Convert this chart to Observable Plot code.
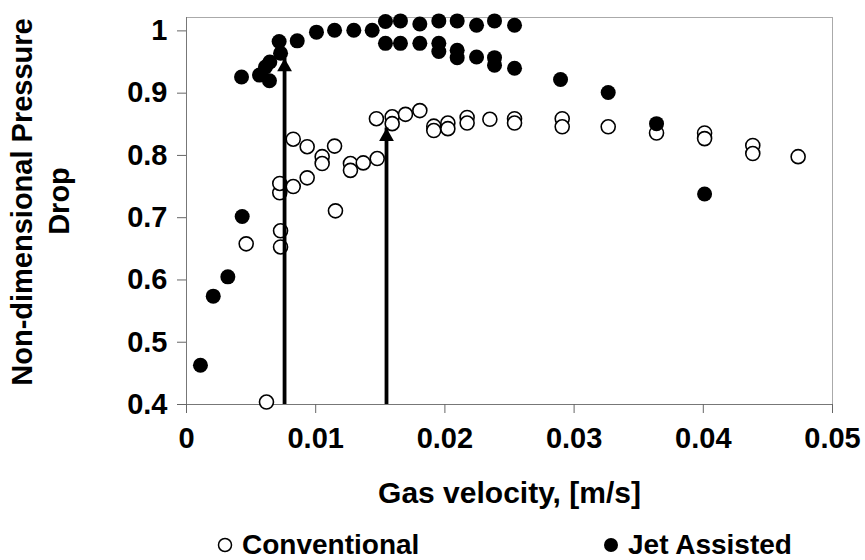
<!DOCTYPE html>
<html><head><meta charset="utf-8">
<script src="https://cdn.jsdelivr.net/npm/d3@7"></script>
<script src="https://cdn.jsdelivr.net/npm/@observablehq/plot@0.6"></script>
<style>
body{margin:0;background:#fff;font-family:"Liberation Sans",Arial,sans-serif;}
#wrap{position:relative;width:865px;height:560px;}
.leg{position:absolute;top:527px;font-weight:bold;font-size:28px;line-height:36px;display:flex;align-items:center;white-space:nowrap;}
.leg svg{margin-right:9px;}
</style></head><body>
<div id="wrap"><div id="chart"></div>
<div class="leg" style="left:217px"><svg width="16" height="16"><circle cx="8" cy="8" r="6.5" fill="white" stroke="black" stroke-width="1.5"/></svg>Conventional</div>
<div class="leg" style="left:603px"><svg width="16" height="16"><circle cx="8" cy="8" r="7" fill="black"/></svg>Jet Assisted</div>
</div>
<script>
// Conventional (open circles)
const convX = [0.00619,0.00462,0.00728,0.00728,0.00722,0.00722,0.00826,0.00934,0.00826,0.00934,0.0105,0.0105,0.01146,0.01153,0.01269,0.01269,0.01368,0.01476,0.0147,0.01592,0.01592,0.01695,0.01806,0.01914,0.01914,0.02023,0.02023,0.02172,0.02172,0.02348,0.02539,0.02539,0.02908,0.02908,0.03264,0.03638,0.0401,0.0401,0.04383,0.04383,0.04734];
const convY = [0.404,0.658,0.653,0.679,0.740,0.755,0.750,0.764,0.826,0.814,0.798,0.787,0.815,0.711,0.787,0.776,0.788,0.795,0.859,0.862,0.851,0.866,0.872,0.847,0.840,0.852,0.843,0.861,0.852,0.858,0.859,0.852,0.859,0.846,0.846,0.836,0.836,0.827,0.816,0.803,0.798];
// Jet Assisted (filled circles)
const jetX = [0.00108,0.00207,0.0032,0.00431,0.00426,0.00565,0.00642,0.00611,0.00645,0.00728,0.00717,0.00857,0.01006,0.01146,0.01295,0.01437,0.0154,0.01656,0.01806,0.0154,0.01656,0.01806,0.01953,0.01953,0.01953,0.02095,0.02095,0.02095,0.02245,0.02245,0.02384,0.02384,0.02384,0.02539,0.02539,0.02895,0.03264,0.03638,0.0401];
const jetY = [0.463,0.574,0.605,0.702,0.926,0.929,0.920,0.942,0.950,0.964,0.983,0.984,0.998,1.001,1.001,1.001,1.015,1.016,1.011,0.980,0.980,0.980,1.016,0.980,0.967,1.016,0.969,0.957,1.009,0.958,1.016,0.957,0.945,1.009,0.940,0.922,0.901,0.851,0.738];
// Arrows
const arrowX = [0.00759, 0.01548];
const arrowTip = [0.956, 0.844];
const xTicks = [0, 0.01, 0.02, 0.03, 0.04, 0.05];
const yTicks = [0.4, 0.5, 0.6, 0.7, 0.8, 0.9, 1];
const xLabel = "Gas velocity, [m/s]";
const yLabelLines = ["Non-dimensional Pressure", "Drop"];

const conv = convX.map((x, i) => ({x, y: convY[i]}));
const jet = jetX.map((x, i) => ({x, y: jetY[i]}));
const arrows = arrowX.map((x, i) => ({x, tip: arrowTip[i]}));

const font = {fontSize: 29, fontWeight: "bold", fill: "black"};
const chart = Plot.plot({
  width: 865, height: 515,
  marginLeft: 186, marginRight: 33, marginTop: 17, marginBottom: 111,
  style: {fontFamily: "'Liberation Sans', Arial, sans-serif", background: "white"},
  x: {domain: [0, 0.05]},
  y: {domain: [0.4, 1.0215]},
  marks: [
    Plot.frame({stroke: "#aaa"}),
    Plot.ruleY([0.4], {stroke: "#777"}),
    Plot.ruleX([0], {stroke: "#777"}),
    Plot.axisY({ticks: yTicks, tickSize: 9, tickPadding: 10, tickFormat: d => String(d), stroke: "#666", label: null, ...font}),
    Plot.axisX({ticks: xTicks, tickSize: 9, tickPadding: 14, tickFormat: d => String(d), stroke: "#666", label: null, ...font}),
    Plot.text([yLabelLines[0]], {frameAnchor: "left", textAnchor: "middle", rotate: -90, dx: -164, dy: -9, ...font}),
    Plot.text([yLabelLines[1]], {frameAnchor: "left", textAnchor: "middle", rotate: -90, dx: -127, dy: -10, ...font}),
    Plot.text([xLabel], {frameAnchor: "bottom", dy: 98, ...font, fontSize: 30}),
    Plot.dot(conv, {x: "x", y: "y", r: 7, stroke: "black", fill: "white", strokeWidth: 1.6}),
    Plot.dot(jet, {x: "x", y: "y", r: 7.5, fill: "black", stroke: "none"}),
    Plot.ruleX(arrows, {x: "x", y1: () => 0.4, y2: "tip", strokeWidth: 3.8, stroke: "black"}),
    Plot.dot(arrows, {x: "x", y: "tip", symbol: "triangle", r: 5.5, fill: "black", stroke: "none", dy: 8.6})
  ]
});
document.getElementById("chart").appendChild(chart);
</script>
</body></html>
